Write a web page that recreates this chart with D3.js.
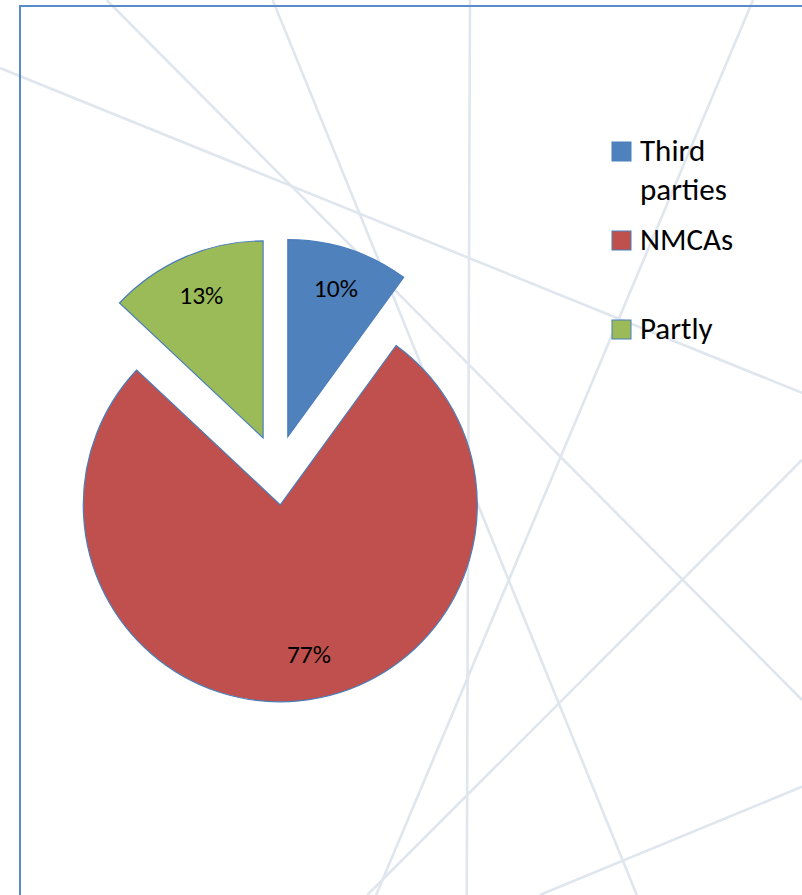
<!DOCTYPE html>
<html>
<head>
<meta charset="utf-8">
<script src="https://cdn.jsdelivr.net/npm/d3@7"></script>
<style>
html,body{margin:0;padding:0;background:#fff;}
svg{display:block;}
</style>
</head>
<body>
<svg id="chart" width="802" height="895"></svg>
<script>
// ---- data ----
const categories = ["Third parties", "NMCAs", "Partly"];
const values = [10, 77, 13];
const labels = ["10%", "77%", "13%"];
const legendLines = [["Third", "parties"], ["NMCAs"], ["Partly"]];
const colors = ["#4f81bd", "#c0504d", "#9bbb59"];

// decorative background strokes (fractions of page size)
const bgLines = [
  [0, 0.076, 1, 0.439],
  [0.133, 0, 1, 0.782],
  [0.340, 0, 0.794, 1],
  [0.586, 0, 0.582, 1],
  [0.939, 0, 0.469, 1],
  [1, 0.514, 0.458, 1],
  [1, 0.879, 0.673, 1]
];

const W = 802, H = 895;
const svg = d3.select("#chart");

// background lines
svg.append("g").selectAll("line").data(bgLines).join("line")
  .attr("x1", d => d[0] * W).attr("y1", d => d[1] * H)
  .attr("x2", d => d[2] * W).attr("y2", d => d[3] * H)
  .attr("stroke", "#dfe6ee").attr("stroke-width", 2.6);

// chart border (extends beyond right/bottom)
svg.append("rect").attr("x", 20).attr("y", 6)
  .attr("width", W + 20).attr("height", H + 20)
  .attr("fill", "none").attr("stroke", "#5a8ac8").attr("stroke-width", 2);

// pie
const cx = 277, cy = 470, r = 197, explode = 35;
const pie = d3.pie().sort(null).value(d => d);
const arcs = pie(values);
const arc = d3.arc().innerRadius(0).outerRadius(r);

const slices = svg.append("g").attr("transform", `translate(${cx},${cy})`)
  .selectAll("g").data(arcs).join("g")
  .attr("transform", d => {
    const m = (d.startAngle + d.endAngle) / 2;
    return `translate(${explode * Math.sin(m)},${-explode * Math.cos(m)})`;
  });

slices.append("path")
  .attr("d", arc)
  .attr("fill", (d, i) => colors[i])
  .attr("stroke", "#4a7ebb").attr("stroke-width", 1.2)
  .attr("stroke-linejoin", "miter");

slices.append("text")
  .attr("x", d => { const m = (d.startAngle + d.endAngle) / 2; return 0.79 * r * Math.sin(m) + (d.data > 50 ? 14 : 0); })
  .attr("y", d => { const m = (d.startAngle + d.endAngle) / 2; return -0.79 * r * Math.cos(m) - (d.data > 50 ? 5 : 0); })
  .attr("text-anchor", "middle").attr("dominant-baseline", "central")
  .attr("font-family", "Calibri, Lato, sans-serif").attr("font-size", 25.5)
  .attr("fill", "#000")
  .text((d, i) => labels[i]);

// legend
const legendTop = 142, legendStep = 89, lineH = 39;
const lg = svg.append("g").selectAll("g").data(categories).join("g")
  .attr("transform", (d, i) => `translate(612,${legendTop + i * legendStep})`);
lg.append("rect").attr("width", 19).attr("height", 19)
  .attr("fill", (d, i) => colors[i])
  .attr("stroke", "#4a7ebb").attr("stroke-width", 1);
lg.each(function (d, i) {
  const t = d3.select(this).append("text")
    .attr("x", 28).attr("y", 19)
    .attr("font-family", "Calibri, Lato, sans-serif").attr("font-size", 31)
    .attr("fill", "#000");
  legendLines[i].forEach((s, j) => {
    t.append("tspan").attr("x", 28).attr("y", 19 + j * lineH).text(s);
  });
});
</script>
</body>
</html>
